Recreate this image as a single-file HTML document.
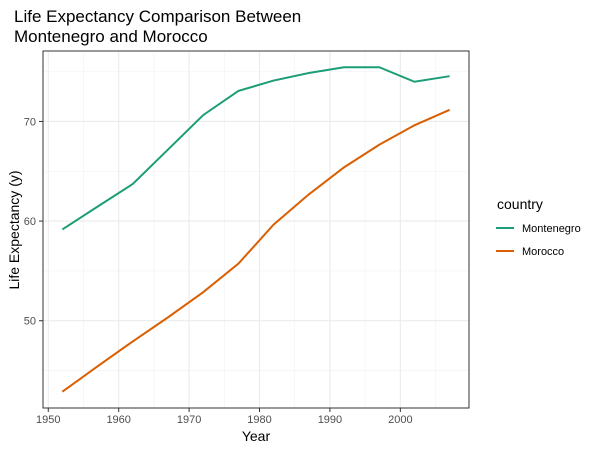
<!DOCTYPE html>
<html><head><meta charset="utf-8"><style>
body{margin:0;background:#fff;font-family:"Liberation Sans",Arial,sans-serif;}
svg text{font-family:"Liberation Sans",Arial,sans-serif;}
</style></head><body>
<svg width="600" height="450" viewBox="0 0 600 450">
<rect width="600" height="450" fill="#fff"/>
<text x="14" y="22" font-size="17" fill="#000">Life Expectancy Comparison Between</text>
<text x="14" y="42" font-size="17" fill="#000">Montenegro and Morocco</text>
<g id="grid"></g>
<g id="lines"></g>
<rect x="43" y="51" width="426" height="357" fill="none" stroke="#333" stroke-width="1"/>
<g id="axes"></g>
<text x="256" y="441" font-size="14" text-anchor="middle">Year</text>
<text transform="translate(19,230) rotate(-90)" font-size="14" text-anchor="middle">Life Expectancy (y)</text>
<g>
<text x="497" y="209" font-size="14">country</text>
<g>
<line x1="496" y1="228" x2="514" y2="228" stroke="#1b9e77" stroke-width="2"/>
<text x="522" y="232" font-size="11">Montenegro</text></g>
<g>
<line x1="496" y1="251" x2="514" y2="251" stroke="#d95f02" stroke-width="2"/>
<text x="522" y="255" font-size="11">Morocco</text></g>
</g>
</svg>
<script>
const years=[1952,1957,1962,1967,1972,1977,1982,1987,1992,1997,2002,2007];
const montenegro=[59.164,61.448,63.728,67.178,70.636,73.066,74.101,74.865,75.435,75.445,73.981,74.543];
const morocco=[42.873,45.423,47.924,50.335,52.862,55.730,59.650,62.677,65.393,67.660,69.615,71.164];
const xTicks=[1950,1960,1970,1980,1990,2000];
const yTicks=[50,60,70];
const X0=43,X1=469,Y0=51,Y1=408,xmin=1949.25,xmax=2009.75,ymin=41.24,ymax=77.07;
const sx=v=>X0+(v-xmin)/(xmax-xmin)*(X1-X0);
const sy=v=>Y1-(v-ymin)/(ymax-ymin)*(Y1-Y0);
const NS="http://www.w3.org/2000/svg";
const grid=document.getElementById('grid'),axes=document.getElementById('axes'),lines=document.getElementById('lines');
function mk(t,a,p){const e=document.createElementNS(NS,t);for(const k in a)e.setAttribute(k,a[k]);p.appendChild(e);return e;}
// minor grid
for(let i=0;i<xTicks.length;i++){const m=xTicks[i]+5;if(m>xmin&&m<xmax){const l=mk('line',{x1:sx(m),x2:sx(m),y1:Y0,y2:Y1,stroke:'#f2f2f2','stroke-width':0.6},grid);

}}
const yMinor=[45,55,65,75];
yMinor.forEach(m=>{const l=mk('line',{x1:X0,x2:X1,y1:sy(m),y2:sy(m),stroke:'#f2f2f2','stroke-width':0.6},grid);

});
xTicks.forEach(t=>{const l=mk('line',{x1:sx(t),x2:sx(t),y1:Y0,y2:Y1,stroke:'#ebebeb','stroke-width':1.1},grid);


const k=mk('line',{x1:sx(t),x2:sx(t),y1:Y1,y2:Y1+4,stroke:'#333'},axes);


const tx=mk('text',{x:sx(t),y:Y1+15,'font-size':11,fill:'#4d4d4d','text-anchor':'middle'},axes);tx.textContent=t;

});
yTicks.forEach(t=>{const l=mk('line',{x1:X0,x2:X1,y1:sy(t),y2:sy(t),stroke:'#ebebeb','stroke-width':1.1},grid);


const k=mk('line',{x1:X0-4,x2:X0,y1:sy(t),y2:sy(t),stroke:'#333'},axes);


const tx=mk('text',{x:X0-7,y:sy(t)+4,'font-size':11,fill:'#4d4d4d','text-anchor':'end'},axes);tx.textContent=t;

});
function series(vals,col,name){const d=vals.map((v,i)=>(i?'L':'M')+sx(years[i]).toFixed(2)+','+sy(v).toFixed(2)).join('');
const p=mk('path',{d:d,fill:'none',stroke:col,'stroke-width':2},lines);

}
series(montenegro,'#1b9e77','line-montenegro');
series(morocco,'#d95f02','line-morocco');
</script>
</body></html>
